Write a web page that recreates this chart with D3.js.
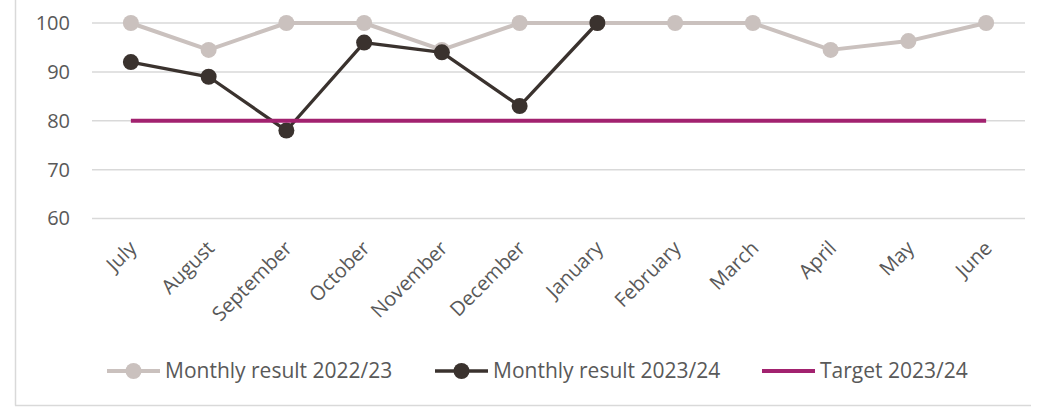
<!DOCTYPE html>
<html>
<head>
<meta charset="utf-8">
<script src="https://cdn.jsdelivr.net/npm/d3@7"></script>
<style>
  body { margin: 0; background: #fff; }
  svg { display: block; font-family: "Open Sans", sans-serif; }
</style>
</head>
<body>
<svg id="chart"></svg>
<script>
// data
const months = ["July", "August", "September", "October", "November", "December",
  "January", "February", "March", "April", "May", "June"];
const result2223 = [100, 94.5, 100, 100, 94.5, 100, 100, 100, 100, 94.5, 96.3, 100];
const result2324 = [92, 89, 78, 96, 94, 83, 100];
const target2324 = [80, 80, 80, 80, 80, 80, 80, 80, 80, 80, 80, 80];
const yTicks = [60, 70, 80, 90, 100];
const seriesNames = ["Monthly result 2022/23", "Monthly result 2023/24", "Target 2023/24"];

const width = 1039, height = 409;
const plot = { left: 92, right: 1025, top: 23, bottom: 218.5 };
const colors = ["#cac1be", "#3a322e", "#a2226f"];
const textColor = "#595959";

const svg = d3.select("#chart")
    .attr("width", width)
    .attr("height", height);

// frame (left and bottom edges only are visible)
svg.append("line")
    .attr("x1", 15.5).attr("x2", 15.5).attr("y1", 0).attr("y2", 405.5)
    .attr("stroke", "#d9d9d9").attr("stroke-width", 1.5);
svg.append("line")
    .attr("x1", 15).attr("x2", 1031).attr("y1", 405.5).attr("y2", 405.5)
    .attr("stroke", "#d9d9d9").attr("stroke-width", 1.5);

const x = d3.scaleBand()
    .domain(months)
    .range([plot.left, plot.right]);
const cx = m => x(m) + x.bandwidth() / 2;

const y = d3.scaleLinear()
    .domain([60, 100])
    .range([plot.bottom, plot.top]);

// gridlines
svg.append("g")
    .selectAll("line")
    .data(yTicks)
    .join("line")
    .attr("x1", plot.left).attr("x2", plot.right)
    .attr("y1", d => y(d)).attr("y2", d => y(d))
    .attr("stroke", "#d9d9d9")
    .attr("stroke-width", 1.5);

// y axis labels
const yAxis = svg.append("g")
    .attr("transform", `translate(${plot.left - 22},0)`)
    .call(d3.axisLeft(y).tickValues(yTicks).tickSize(0).tickPadding(0));
yAxis.select(".domain").remove();
yAxis.selectAll("text")
    .attr("fill", textColor)
    .style("font-size", "20px")
    .style("font-family", "'Open Sans', sans-serif");

// x axis labels, rotated
const xAxis = svg.append("g")
    .attr("transform", `translate(0,${plot.bottom})`)
    .call(d3.axisBottom(x).tickSize(0).tickPadding(0));
xAxis.select(".domain").remove();
xAxis.selectAll("text")
    .attr("fill", textColor)
    .style("font-size", "20px")
    .style("font-family", "'Open Sans', sans-serif")
    .style("text-anchor", "end")
    .attr("transform", "translate(2,26) rotate(-45)")
    .attr("dy", "0.35em")
    .attr("y", 0);

const line = d3.line()
    .x((d, i) => cx(months[i]))
    .y(d => y(d));

function drawSeries(values, color, lw, markers) {
    svg.append("path")
        .datum(values)
        .attr("fill", "none")
        .attr("stroke", color)
        .attr("stroke-width", lw)
        .attr("stroke-linejoin", "round")
        .attr("d", line);
    if (markers) {
        svg.append("g")
            .selectAll("circle")
            .data(values)
            .join("circle")
            .attr("cx", (d, i) => cx(months[i]))
            .attr("cy", d => y(d))
            .attr("r", 8)
            .attr("fill", color);
    }
}

drawSeries(result2223, colors[0], 4, true);
drawSeries(result2324, colors[1], 3.3, true);
drawSeries(target2324, colors[2], 3.8, false);

// legend
const legendItems = [
    { name: seriesNames[0], color: colors[0], lw: 4, marker: true, x: 107 },
    { name: seriesNames[1], color: colors[1], lw: 3.3, marker: true, x: 435 },
    { name: seriesNames[2], color: colors[2], lw: 3.8, marker: false, x: 762 }
];
const legend = svg.append("g").attr("transform", "translate(0,371)");
legendItems.forEach(item => {
    const row = legend.append("g").attr("transform", `translate(${item.x},0)`);
    row.append("line")
        .attr("x1", 0).attr("x2", 53)
        .attr("stroke", item.color)
        .attr("stroke-width", item.lw);
    if (item.marker) {
        row.append("circle")
            .attr("cx", 26.5)
            .attr("r", 8)
            .attr("fill", item.color);
    }
    row.append("text")
        .attr("x", 58)
        .attr("dy", "0.35em")
        .attr("fill", textColor)
        .style("font-size", "21px")
        .text(item.name);
});
</script>
</body>
</html>
